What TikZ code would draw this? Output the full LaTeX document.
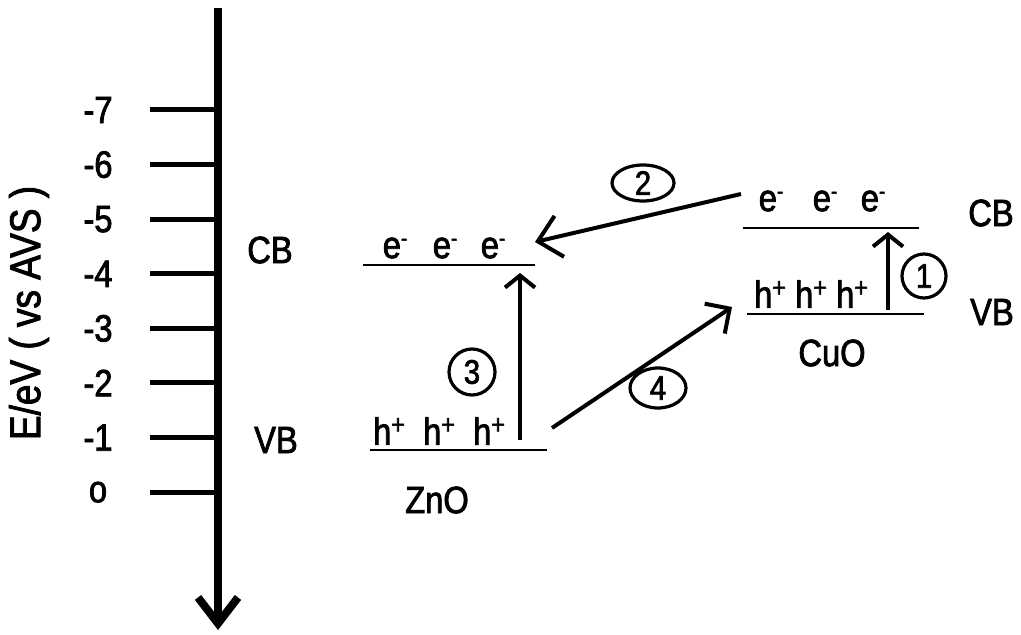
\documentclass[tikz,border=0pt]{standalone}
\usepackage{fontspec}
\setmainfont{Liberation Sans}[FakeStretch=0.86,FakeBold=2]
\usetikzlibrary{arrows.meta,shapes.geometric}
\newcommand\elec{e\raisebox{.62ex}{\fontsize{11}{11}\selectfont -}}
\newcommand\hole{h\raisebox{.55ex}{\fontsize{13.5}{13.5}\selectfont +}}
\begin{document}
\begin{tikzpicture}[x=0.5pt,y=-0.5pt,
  lbl/.style={font=\fontsize{19}{20}\selectfont, inner sep=0pt},
  ticklabel/.style={lbl},
  tickline/.style={line width=2.5pt},
  axisline/.style={line width=4pt,-{Straight Barb[length=13pt,width=20pt,line width=4pt]}},
  band/.style={line width=1pt},
  arr/.style={line width=2pt},
  uparr/.style={arr,-{Straight Barb[length=6pt,width=15pt]}},
  bigarr/.style={arr,-{Straight Barb[length=11pt,width=21pt]}},
  midarr/.style={arr,-{Straight Barb[length=9pt,width=18pt]}},
  numring/.style={draw, ellipse, line width=1.6pt, inner sep=0pt,
    font=\fontsize{17}{17}\selectfont}]
\useasboundingbox (0,0) rectangle (1021,635);

% axis
\coordinate (atop) at (218,8);
\coordinate (abot) at (218,630);
\draw[axisline] (atop) -- (abot);
\node[lbl, font=\fontsize{21.5}{22}\selectfont, rotate=90] (ylab) at (29,313) {E/eV ( vs AVS )};

% ticks
\foreach \v/\lab [count=\i from 0] in {-7/-7,-6/-6,-5/-5,-4/-4,-3/-3,-2/-2,-1/-1,0/o}{
  \pgfmathsetmacro\yy{110+54.6*\i}
  \coordinate (t\i a) at (150,\yy);
  \coordinate (t\i b) at (216,\yy);
  \draw[tickline] (t\i a) -- (t\i b);
  \node[ticklabel] (tl\i) at (98,\yy) {\lab};
}

% axis band labels
\node[lbl] (cbA) at (270,250) {CB};
\node[lbl] (vbA) at (276,440) {VB};

% ZnO
\draw[band] (363,265) -- (535,265);
\draw[band] (370,450) -- (547,450);
\node[lbl] (ze1) at (395,248) {\elec};
\node[lbl] (ze2) at (445,248) {\elec};
\node[lbl] (ze3) at (493,248) {\elec};
\node[lbl] (zh1) at (389,431) {\hole};
\node[lbl] (zh2) at (439,431) {\hole};
\node[lbl] (zh3) at (489,431) {\hole};
\node[lbl] (zno) at (437,500) {ZnO};

% CuO
\draw[band] (743,228) -- (919,228);
\draw[band] (747,314) -- (924,314);
\node[lbl] (ce1) at (771,201) {\elec};
\node[lbl] (ce2) at (825,201) {\elec};
\node[lbl] (ce3) at (873,201) {\elec};
\node[lbl] (ch1) at (770,294) {\hole};
\node[lbl] (ch2) at (811,294) {\hole};
\node[lbl] (ch3) at (852,294) {\hole};
\node[lbl] (cuo) at (832,353) {CuO};
\node[lbl] (cbC) at (991,213) {CB};
\node[lbl] (vbC) at (992,312) {VB};

% arrows
\coordinate (a1s) at (888,310);
\coordinate (a1e) at (888,232);
\draw[uparr] (a1s) -- (a1e);
\coordinate (a3s) at (520,440);
\coordinate (a3e) at (520,273);
\draw[uparr] (a3s) -- (a3e);
\coordinate (a2s) at (741,194);
\coordinate (a2e) at (535,242);
\draw[bigarr] (a2s) -- (a2e);
\coordinate (a4s) at (552,428);
\coordinate (a4e) at (732,307);
\draw[midarr] (a4s) -- (a4e);

% circled numbers
\node[numring, minimum width=22pt, minimum height=22pt] (n1) at (924,276) {1};
\node[numring, minimum width=31pt, minimum height=18pt] (n2) at (643,183) {2};
\node[numring, minimum width=23pt, minimum height=23pt] (n3) at (472,372) {3};
\node[numring, minimum width=28pt, minimum height=20pt] (n4) at (658,388) {4};
\end{tikzpicture}
\end{document}
